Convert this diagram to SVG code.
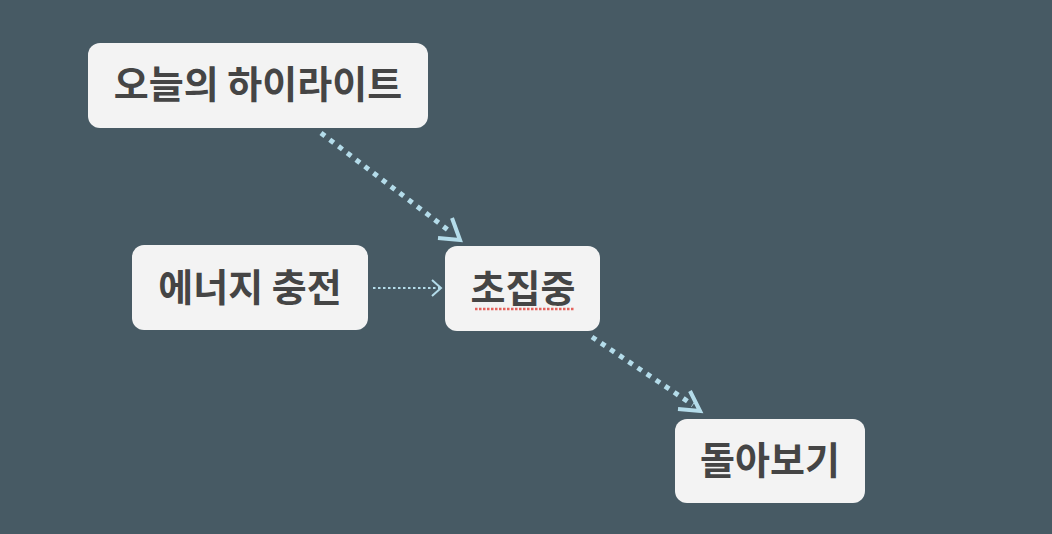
<svg xmlns="http://www.w3.org/2000/svg" width="1052" height="534" viewBox="0 0 1052 534">
<style>
.node rect{fill:#f3f3f3;}
.node text{font-family:"Noto Sans CJK KR","Noto Sans",sans-serif;font-weight:bold;font-size:38px;fill:#454545;text-anchor:middle;dominant-baseline:central;}
.thick{stroke:#b4dcea;stroke-width:5;stroke-dasharray:5 6;fill:none;}
.thin{stroke:#b4dcea;stroke-width:2;stroke-dasharray:2.5 2.5;fill:none;}
.head{stroke:#b4dcea;fill:none;stroke-linecap:butt;}
</style>
<rect width="1052" height="534" fill="#475a64"/>
<g id="connectors">
<line class="thick" x1="321" y1="133" x2="452" y2="233"/>
<path class="head" stroke-width="4" d="M438,238 L460,240 L452,218"/>
<line class="thin" x1="373" y1="288" x2="440" y2="288"/>
<path class="head" stroke-width="2" d="M432,280 L441,288 L432,296"/>
<line class="thick" x1="592" y1="337" x2="693" y2="405"/>
<path class="head" stroke-width="4" d="M678,409 L700,411 L690,391"/>
</g>
<g id="n1" class="node"><rect x="88" y="43" width="340" height="85" rx="12"/><text x="258" y="81">오늘의 하이라이트</text></g>
<g id="n2" class="node"><rect x="132" y="245" width="236" height="85" rx="12"/><text x="250" y="284">에너지 충전</text></g>
<g id="n3" class="node"><rect x="445" y="246" width="155" height="85" rx="12"/><text x="523" y="285">초집중</text><line x1="475" y1="309" x2="574" y2="309" stroke="#e5625c" stroke-width="2.5" stroke-dasharray="2.5 1.5"/></g>
<g id="n4" class="node"><rect x="675" y="419" width="190" height="84" rx="12"/><text x="770" y="457">돌아보기</text></g>
</svg>
